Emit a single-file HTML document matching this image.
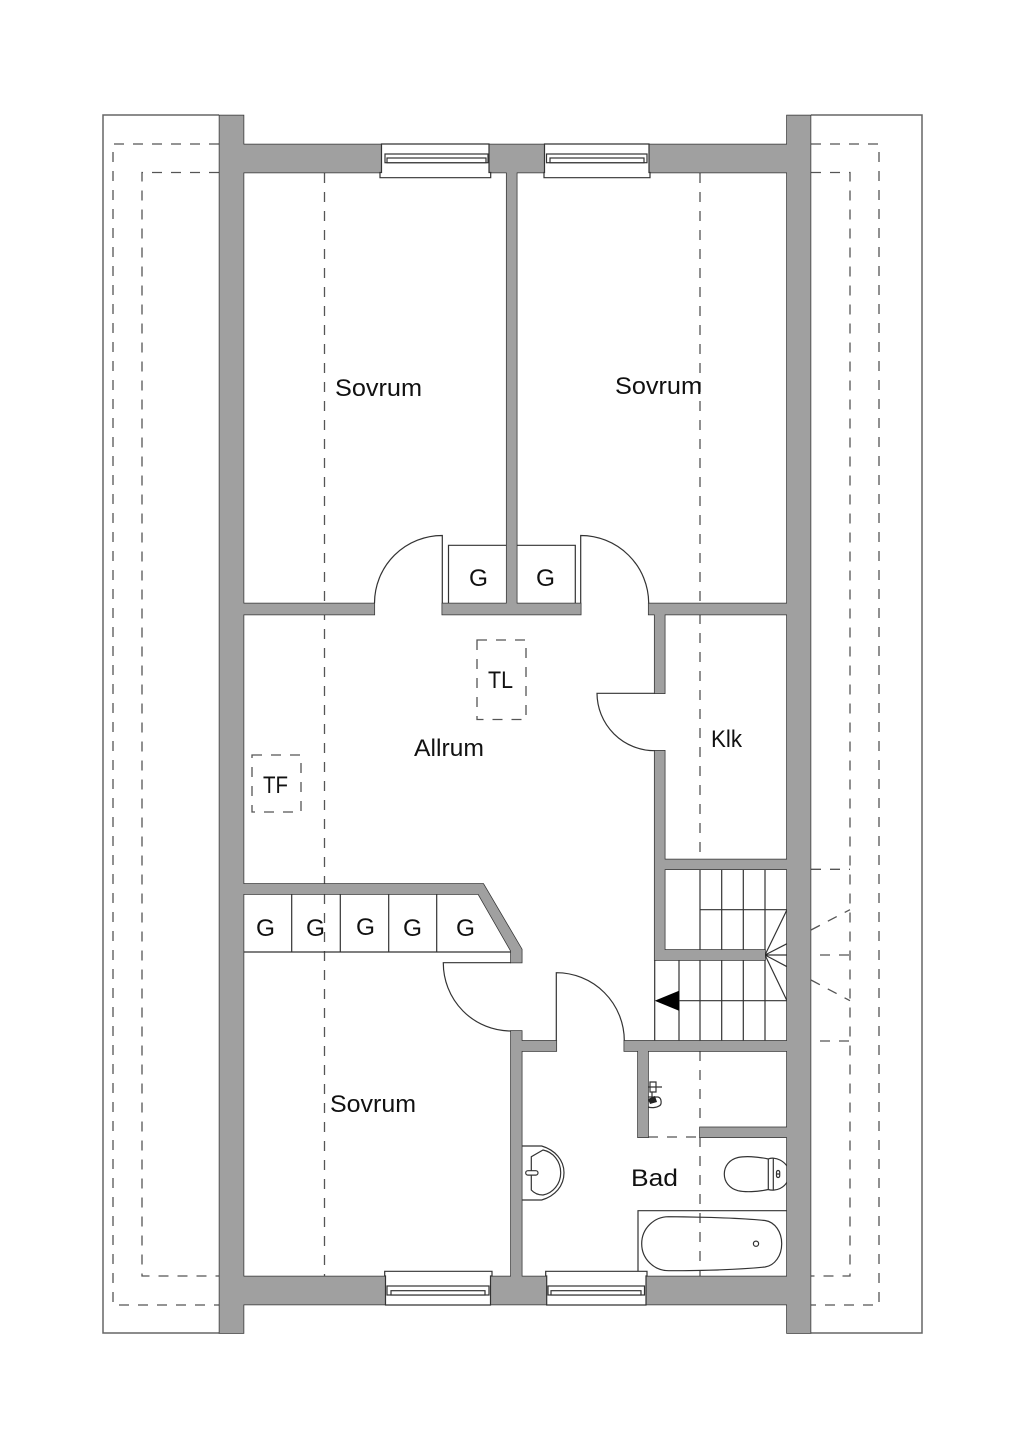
<!DOCTYPE html>
<html><head><meta charset="utf-8"><style>
html,body{margin:0;padding:0;background:#fff}
svg{display:block}
text{font-family:"Liberation Sans",sans-serif;font-size:24.5px;fill:#111}
</style></head><body>
<svg width="1024" height="1448" viewBox="0 0 1024 1448" xmlns="http://www.w3.org/2000/svg">
<rect width="1024" height="1448" fill="#fff"/>
<!-- outer roof -->
<path d="M219 115H103V1333H219M811 115H922V1333H811" fill="none" stroke="#666" stroke-width="1.5"/>
<!-- dashed -->
<g fill="none" stroke="#555" stroke-width="1.3" stroke-dasharray="10 9">
<path d="M219 144H113V1305H219"/>
<path d="M219 172.5H142V1276H219"/>
<path d="M811 144H879V1305H811"/>
<path d="M811 172.5H850V1276H811"/>
<path d="M324.5 173V884M324.5 894V1276"/>
<path d="M700 173V603M700 614V859M700 1051V1127M700 1137V1276"/>
<path d="M648 1137H700"/>
<path d="M811 869.3H850M811 930L850 909.7M820 955H850M811 980L850 1000.7M820 1041H850"/>
<path d="M477 640H526V719.5H477Z"/>
<path d="M252 755H301V812H252Z"/>
</g>
<!-- thin room lines -->
<g fill="none" stroke="#333" stroke-width="1.2">
<path d="M448.5 603V545.3H506.7M517 545.3H575.3V603"/>
<path d="M243 952H511M291.7 894V952M340.3 894V952M388.7 894V952M436.7 894V952"/>
<path d="M442.3 603V535.5A67.7 67.7 0 0 0 374.5 603"/>
<path d="M580.7 603V535.5A68 68 0 0 1 648.7 603"/>
<path d="M654.7 693.3H597A57.7 57.7 0 0 0 654.7 750.7"/>
<path d="M511 962.7H443.3A68 68 0 0 0 511 1031"/>
<path d="M556.3 1040.7V972.7A68 68 0 0 1 624.3 1040.7"/>
<path d="M654.7 960V1040.7"/>
<!-- stairs -->
<path d="M700 869V950M721.7 869V950M743.3 869V950M765 869V950M700 909.7H787"/>
<path d="M679 960V1040.7M700 960V1040.7M721.7 960V1040.7M743.3 960V1040.7M765 955V1040.7M679 1000.7H787"/>
<path d="M765 955L787 909.7M765 955L787 943.7M765 955H787M765 955L787 966.7M765 955L787 1000.7"/>
<!-- bath -->
<path d="M638 1276V1210.7H787"/>
<path d="M668.7 1216.7C700 1217 740 1218 765 1220.5C775 1222 781.7 1232 781.7 1243.7C781.7 1255.5 775 1265.5 765 1267C740 1269.5 700 1270.7 668.7 1270.7A27 27 0 0 1 668.7 1216.7Z"/>
<circle cx="756" cy="1243.7" r="2.6"/>
<!-- toilet -->
<path d="M768.3 1159C757 1156.5 745 1156 738 1157.5C729.5 1159.5 724.3 1166 724.3 1174C724.3 1182 729.5 1188.5 738 1190.7C745 1192.3 757 1192 768.3 1189.5Z"/>
<path d="M768.3 1159C771 1157.5 776 1158 780 1160C783 1161.5 785.5 1164 787 1166M768.3 1189.5C771 1190.5 776 1190.5 780 1188.5C783 1187 785.5 1185 787 1182"/>
<path d="M773.3 1158V1189.5"/>
<rect x="776.5" y="1170.5" width="3.2" height="7" rx="1.6"/>
<path d="M776.5 1174H779.7"/>
<!-- sink -->
<path d="M521.7 1146H541.7C555 1150 564 1160 564 1172.7C564 1186 555 1196 541.7 1200H521.7"/>
<path d="M531.3 1190V1156.7L543 1150C553 1152 560.7 1161 560.7 1172.7C560.7 1184 553 1193 543 1195C538 1195 534 1193 531.3 1190Z"/>
<rect x="525.7" y="1170.7" width="12.3" height="4.4" rx="2.2" fill="#fff"/>
<!-- shower fittings -->
<path d="M650 1082H656V1092H650ZM648 1087H662M652 1092V1098M648 1097H658C662 1098 662 1105 659 1106C656 1108 651 1108 648 1107M648 1101H655"/>
</g>
<path d="M654.7 1000.7L679 990.7V1010.7Z" fill="#000"/>
<circle cx="765" cy="955" r="1.5" fill="#111"/>
<path d="M648 1099L655 1096L657 1102L650 1104Z" fill="#222"/>
<!-- walls: stroke pass, then fill pass -->
<path fill="#333" stroke="#333" stroke-width="1.5" stroke-linejoin="miter" d="M219.5 115.5H243.5V1333H219.5ZM787 115.5H810.5V1333H787ZM243 144.5H381.5V172.5H243ZM489 144.5H544.5V172.5H489ZM649 144.5H787V172.5H649ZM243 1276.5H385.5V1304.5H243ZM490.5 1276.5H546.5V1304.5H490.5ZM646 1276.5H787V1304.5H646ZM506.7 172H516.7V604H506.7ZM243 603.5H374.3V614.5H243ZM442.3 603.5H580.7V614.5H442.3ZM648.7 603.5H787V614.5H648.7ZM654.7 614H664.7V693.3H654.7ZM654.7 750.7H664.7V960H654.7ZM664 859.5H787V869.3H664ZM654.7 950H765V960H654.7ZM624.3 1040.9H787V1051H624.3ZM638 1050H648V1137.3H638ZM700 1127.4H787V1137.3H700ZM511 1031H521.7V1277H511ZM521 1040.9H556.3V1051H521ZM243 884H483.3L521.7 949.3V962.5H511V951L478.3 894H243Z"/>
<path fill="#a0a0a0" d="M219.5 115.5H243.5V1333H219.5ZM787 115.5H810.5V1333H787ZM243 144.5H381.5V172.5H243ZM489 144.5H544.5V172.5H489ZM649 144.5H787V172.5H649ZM243 1276.5H385.5V1304.5H243ZM490.5 1276.5H546.5V1304.5H490.5ZM646 1276.5H787V1304.5H646ZM506.7 172H516.7V604H506.7ZM243 603.5H374.3V614.5H243ZM442.3 603.5H580.7V614.5H442.3ZM648.7 603.5H787V614.5H648.7ZM654.7 614H664.7V693.3H654.7ZM654.7 750.7H664.7V960H654.7ZM664 859.5H787V869.3H664ZM654.7 950H765V960H654.7ZM624.3 1040.9H787V1051H624.3ZM638 1050H648V1137.3H638ZM700 1127.4H787V1137.3H700ZM511 1031H521.7V1277H511ZM521 1040.9H556.3V1051H521ZM243 884H483.3L521.7 949.3V962.5H511V951L478.3 894H243Z"/>
<!-- windows -->
<g fill="#fff" stroke="#333" stroke-width="1.2">
<path d="M381.5 144H489V172.5H490.7V177.7H380V172.5H381.5Z"/>
<rect x="385" y="154" width="103" height="8.7"/>
<rect x="387" y="158" width="99" height="4.7"/>
<path d="M544.5 144H649V172.5H650V177.7H544V172.5H544.5Z"/>
<rect x="546.5" y="154" width="100.5" height="8.7"/>
<rect x="550" y="158" width="94" height="4.7"/>
<path d="M385.5 1305H490.5V1276H492V1271.3H384.7V1276H385.5Z"/>
<rect x="387" y="1286" width="102" height="9"/>
<rect x="391" y="1290.7" width="94" height="4.3"/>
<path d="M546.7 1305H646V1276H647V1271.3H545.7V1276H546.7Z"/>
<rect x="548" y="1286" width="96.5" height="9"/>
<rect x="551" y="1290.7" width="90" height="4.3"/>
</g>
<!-- labels -->
<text x="335" y="396" textLength="87" lengthAdjust="spacingAndGlyphs">Sovrum</text>
<text x="615" y="394" textLength="87" lengthAdjust="spacingAndGlyphs">Sovrum</text>
<text x="330" y="1112" textLength="86" lengthAdjust="spacingAndGlyphs">Sovrum</text>
<text x="414" y="756" textLength="70" lengthAdjust="spacingAndGlyphs">Allrum</text>
<text x="711" y="747" textLength="31" lengthAdjust="spacingAndGlyphs">Klk</text>
<text x="631" y="1186" textLength="47" lengthAdjust="spacingAndGlyphs">Bad</text>
<text x="488" y="688" textLength="25" lengthAdjust="spacingAndGlyphs">TL</text>
<text x="263" y="793" textLength="25" lengthAdjust="spacingAndGlyphs">TF</text>
<text x="469" y="586" textLength="19" lengthAdjust="spacingAndGlyphs">G</text>
<text x="536" y="586" textLength="19" lengthAdjust="spacingAndGlyphs">G</text>
<text x="256" y="936" textLength="19" lengthAdjust="spacingAndGlyphs">G</text>
<text x="306" y="936" textLength="19" lengthAdjust="spacingAndGlyphs">G</text>
<text x="356" y="935" textLength="19" lengthAdjust="spacingAndGlyphs">G</text>
<text x="403" y="936" textLength="19" lengthAdjust="spacingAndGlyphs">G</text>
<text x="456" y="936" textLength="19" lengthAdjust="spacingAndGlyphs">G</text>
</svg>
</body></html>
